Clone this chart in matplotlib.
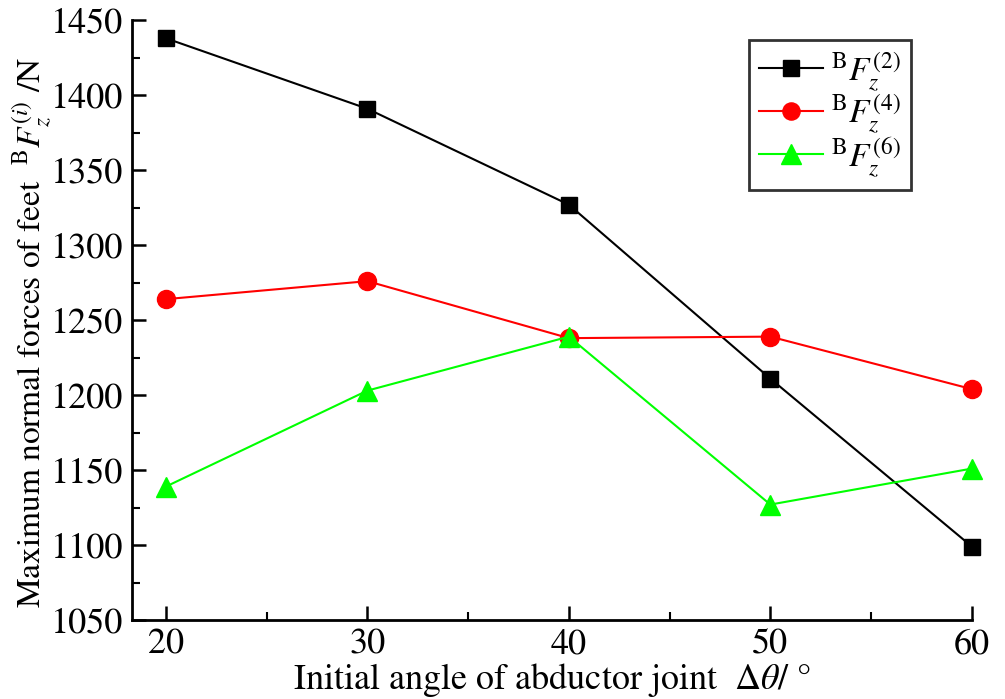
import matplotlib
matplotlib.use("Agg")
import matplotlib.pyplot as plt
from matplotlib.ticker import MultipleLocator

plt.rcParams['font.family'] = ['STIXGeneral', 'Liberation Serif', 'DejaVu Serif']
plt.rcParams['mathtext.fontset'] = 'stix'

angles = [20, 30, 40, 50, 60]
force_2 = [1438, 1391, 1327, 1211, 1099]
force_4 = [1264, 1276, 1238, 1239, 1204]
force_6 = [1139, 1203, 1239, 1127, 1151]
series_labels = [r'$^{\rm B}F_z^{(2)}$', r'$^{\rm B}F_z^{(4)}$', r'$^{\rm B}F_z^{(6)}$']
x_ticks = [20, 30, 40, 50, 60]
y_ticks = [1050, 1100, 1150, 1200, 1250, 1300, 1350, 1400, 1450]

fig = plt.figure(figsize=(10.05, 6.99), dpi=100)
ax = fig.add_axes([0.131, 0.113, 0.836, 0.858])

ax.plot(angles, force_2, color='black', marker='s', markersize=12, lw=1.5,
        label=series_labels[0], clip_on=False, zorder=3)
ax.plot(angles, force_4, color='red', marker='o', markersize=13, lw=1.5,
        label=series_labels[1], clip_on=False, zorder=3)
ax.plot(angles, force_6, color='#00ff00', marker='^', markersize=15, lw=1.5,
        label=series_labels[2], clip_on=False, zorder=3)

ax.set_xlim(18.3, 60)
ax.set_ylim(1050, 1450)
ax.set_xticks(x_ticks)
ax.set_yticks(y_ticks)
ax.xaxis.set_minor_locator(MultipleLocator(5))
ax.yaxis.set_minor_locator(MultipleLocator(25))

for side in ('top', 'right'):
    ax.spines[side].set_visible(False)
for side in ('left', 'bottom'):
    ax.spines[side].set_linewidth(2)

ax.tick_params(which='major', direction='in', length=10, width=1.8,
               labelsize=26, pad=6)
ax.tick_params(which='minor', direction='in', length=6, width=1.5)
ax.tick_params(axis='x', which='both', bottom=True, top=False)

ax.set_xlabel(r'Initial angle of abductor joint  $\Delta\theta$/ °', fontsize=26, labelpad=0)
ax.set_ylabel(r'Maximum normal forces of feet  $^{\rm B}F_z^{(i)}$ /N', fontsize=24)
ax.yaxis.set_label_coords(-0.094, 0.48)

leg = ax.legend(loc='upper right', bbox_to_anchor=(0.947, 0.995), fontsize=24,
                frameon=True, fancybox=False, edgecolor='black',
                handlelength=1.9, handletextpad=0.25, borderpad=0.3,
                labelspacing=0.0, markerscale=0.95)
leg.get_frame().set_linewidth(2)

fig.savefig('out.png', dpi=100)
